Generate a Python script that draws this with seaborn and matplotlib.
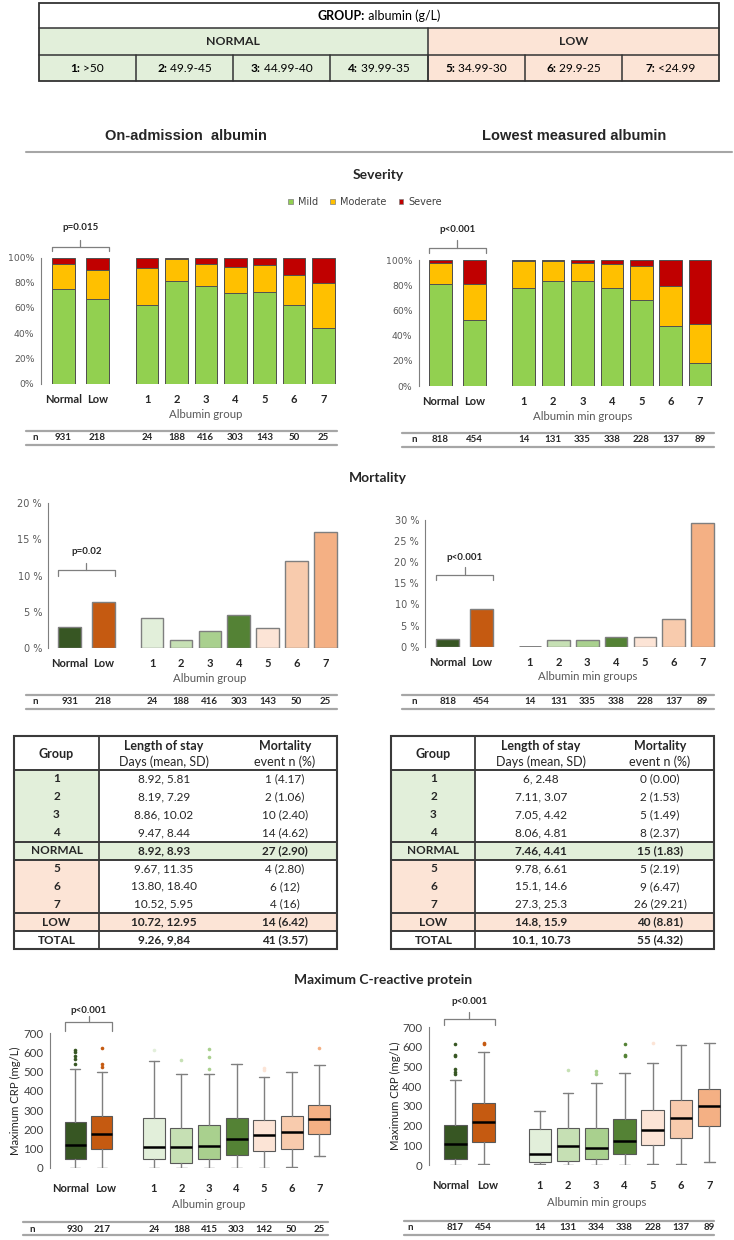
import matplotlib
matplotlib.use("Agg")
import matplotlib.pyplot as plt
import numpy as np
import pandas as pd
import seaborn as sns
from matplotlib.patches import Rectangle, Patch
from matplotlib.transforms import ScaledTranslation

# ---------------- data ----------------
pair_labels = ["Normal", "Low"]
group_labels = ["1", "2", "3", "4", "5", "6", "7"]
albumin_ranges = [">50", "49.9-45", "44.99-40", "39.99-35", "34.99-30", "29.9-25", "<24.99"]
severity_levels = ["Mild", "Moderate", "Severe"]

# severity (% of patients) : Normal, Low, groups 1..7
sev_adm_mild = [75, 67, 62.5, 81, 77, 71.5, 73, 62, 44]
sev_adm_moderate = [20, 23, 29.5, 18, 18, 21, 21, 24, 36]
sev_adm_severe = [5, 10, 8, 1, 5, 7.5, 6, 14, 20]
sev_min_mild = [81, 52, 78, 83.5, 83.5, 77.5, 68, 48, 18]
sev_min_moderate = [17, 29, 21.5, 15.5, 14.5, 19, 27, 31, 31.5]
sev_min_severe = [2, 19, 0.5, 1, 2, 3.5, 5, 21, 50.5]

n_adm = [931, 218, 24, 188, 416, 303, 143, 50, 25]
n_min = [818, 454, 14, 131, 335, 338, 228, 137, 89]
n_crp_adm = [930, 217, 24, 188, 415, 303, 142, 50, 25]
n_crp_min = [817, 454, 14, 131, 334, 338, 228, 137, 89]

# mortality (%)
mort_adm = [2.90, 6.42, 4.17, 1.06, 2.40, 4.62, 2.80, 12.0, 16.0]
mort_min = [1.83, 8.81, 0.00, 1.53, 1.49, 2.37, 2.19, 6.47, 29.21]

p_sev = ["p=0.015", "p<0.001"]
p_mort = ["p=0.02", "p<0.001"]
p_crp = ["p<0.001", "p<0.001"]

# tables
table_groups = ["1", "2", "3", "4", "NORMAL", "5", "6", "7", "LOW", "TOTAL"]
los_adm = ["8.92, 5.81", "8.19, 7.29", "8.86, 10.02", "9.47, 8.44", "8.92, 8.93",
           "9.67, 11.35", "13.80, 18.40", "10.52, 5.95", "10.72, 12.95", "9.26, 9,84"]
mort_txt_adm = ["1 (4.17)", "2 (1.06)", "10 (2.40)", "14 (4.62)", "27 (2.90)",
                "4 (2.80)", "6 (12)", "4 (16)", "14 (6.42)", "41 (3.57)"]
los_min = ["6, 2.48", "7.11, 3.07", "7.05, 4.42", "8.06, 4.81", "7.46, 4.41",
           "9.78, 6.61", "15.1, 14.6", "27.3, 25.3", "14.8, 15.9", "10.1, 10.73"]
mort_txt_min = ["0 (0.00)", "2 (1.53)", "5 (1.49)", "8 (2.37)", "15 (1.83)",
                "5 (2.19)", "9 (6.47)", "26 (29.21)", "40 (8.81)", "55 (4.32)"]

# maximum CRP box statistics (mg/L): Normal, Low, groups 1..7
crp_adm_whislo = [0, 0, 0, 0, 0, 0, 0, 5, 60]
crp_adm_q1 = [48, 100, 45, 25, 47, 65, 90, 98, 178]
crp_adm_med = [120, 178, 110, 107, 113, 150, 170, 185, 255]
crp_adm_q3 = [237, 270, 258, 210, 225, 258, 248, 268, 325]
crp_adm_whishi = [515, 500, 555, 485, 490, 540, 470, 500, 535]
crp_adm_fliers = [[612, 600, 580, 566, 540], [620, 540, 522], [610], [560],
                  [615, 575, 515], [], [520, 510], [], [620]]
crp_min_whislo = [0, 3, 5, 0, 0, 0, 3, 3, 15]
crp_min_q1 = [32, 115, 15, 20, 28, 55, 100, 138, 200]
crp_min_med = [105, 218, 55, 95, 88, 122, 178, 240, 300]
crp_min_q3 = [205, 312, 183, 186, 188, 232, 278, 332, 388]
crp_min_whishi = [432, 572, 275, 365, 418, 465, 515, 610, 618]
crp_min_fliers = [[612, 560, 555, 485, 472, 462], [620, 612], [], [480],
                  [475, 462], [612, 560, 555], [620], [], []]

# ---------------- style ----------------
sns.set_style("white")
FONT = ["Lato", "DejaVu Sans"]
ARIAL = ["Liberation Sans", "DejaVu Sans"]
TICKF = ["DejaVu Sans"]
plt.rcParams["font.family"] = FONT

MILD_C, MOD_C, SEV_C = "#92D050", "#FFC000", "#C00000"
pair_colors = ["#375623", "#C55A11"]
group_colors = ["#E2EFDA", "#C6E0B4", "#A9D08E", "#548235", "#FCE4D6", "#F8CBAD", "#F4B084"]
GREEN_L, PEACH_L = "#E2EFDA", "#FCE4D6"
GRAY = "#7F7F7F"
TXTG = "#595959"

W, H = 734, 1240
fig = plt.figure(figsize=(W / 100, H / 100), dpi=100)
ov = fig.add_axes([0, 0, 1, 1])
ov.set_xlim(0, W)
ov.set_ylim(H, 0)
ov.axis("off")
renderer = fig.canvas.get_renderer()


def add_ax(x0, x1, ytop, ybot):
    ax = fig.add_axes([x0 / W, 1 - ybot / H, (x1 - x0) / W, (ybot - ytop) / H])
    ax.patch.set_alpha(0)
    return ax


def mixed(x, y, parts, size, color="black"):
    objs = []
    for s, w in parts:
        objs.append(ov.text(0, y, s, fontsize=size, fontweight=w, family=FONT,
                            va="center", ha="left", color=color))
    widths = [t.get_window_extent(renderer=renderer).width for t in objs]
    x0 = x - sum(widths) / 2
    for t, wd in zip(objs, widths):
        t.set_x(x0)
        x0 += wd


def make_axes(L, c0, c1, g0, g6, y0, ytop):
    s = c1 - c0
    pad = (c0 - L) / s
    axp = add_ax(L, c1 + 0.6 * s, ytop, y0)
    sg = (g6 - g0) / 6
    axg = add_ax(g0 - 0.5 * sg, g6 + 0.5 * sg, ytop, y0)
    return axp, axg, (-pad, 1.6)


def style_axes(axp, axg, xl, ymax, yticks, fmt, tfam, tsize, tcolor, xpad):
    axp.set_xlim(*xl)
    axg.set_xlim(-0.5, 6.5)
    for ax in (axp, axg):
        ax.set_ylim(0, ymax)
        ax.set_xlabel("")
        ax.set_ylabel("")
        for sp in ["top", "right", "bottom"]:
            ax.spines[sp].set_visible(False)
    axg.spines["left"].set_visible(False)
    axg.set_yticks([])
    axp.spines["left"].set_color(GRAY)
    axp.spines["left"].set_linewidth(0.8)
    axp.set_yticks(yticks)
    axp.set_yticklabels([fmt(v) for v in yticks], family=tfam, fontsize=tsize, color=tcolor)
    axp.tick_params(axis="y", length=3, width=0.8, color=GRAY, pad=1.5)
    axp.set_xticks([0, 1])
    axp.set_xticklabels(pair_labels, fontweight="bold", fontsize=8, family=FONT)
    axg.set_xticks(range(7))
    axg.set_xticklabels(group_labels, fontweight="bold", fontsize=8, family=FONT)
    for ax in (axp, axg):
        ax.tick_params(axis="x", length=0, pad=xpad)


def shift_labels(ax, shifts):
    for lab, dx in zip(ax.get_xticklabels(), shifts):
        lab.set_transform(lab.get_transform() + ScaledTranslation(dx / 100, 0, fig.dpi_scale_trans))


def px(ax, xd):
    return ax.transData.transform((xd, 0))[0]


def bracket(ax, hw, y_end, y_h, y_top, y_text, text):
    x0, x1 = px(ax, 0 - hw), px(ax, 1 + hw)
    xm = (x0 + x1) / 2
    ov.plot([x0, x0, x1, x1], [y_end, y_h, y_h, y_end], color=GRAY, lw=0.9, solid_joinstyle="round")
    ov.plot([xm, xm], [y_h, y_top], color=GRAY, lw=0.9)
    ov.text(xm, y_text, text, fontsize=7, fontweight="bold", ha="center", va="center", family=FONT)


def xlabel(axg, y, text):
    ov.text(px(axg, 2.0), y, text, fontsize=8.2, ha="center", va="center", color=TXTG, family=FONT)


def nrow(axp, axg, values, y_text, y1, y2, xl, xr, xn):
    for yy in (y1, y2):
        ov.plot([xl, xr], [yy, yy], color="#A6A6A6", lw=1.6)
    ov.text(xn, y_text, "n", fontsize=7, fontweight="bold", ha="center", va="center", family=FONT)
    for i, v in enumerate(values[:2]):
        ov.text(px(axp, i), y_text, str(v), fontsize=7, fontweight="bold", ha="center", va="center", family=FONT)
    for i, v in enumerate(values[2:]):
        ov.text(px(axg, i), y_text, str(v), fontsize=7, fontweight="bold", ha="center", va="center", family=FONT)


# ---------------- top table ----------------
tx0, tx1 = 38.5, 719.3
cw = (tx1 - tx0) / 7
ty = [3, 28, 55, 81]
ov.add_patch(Rectangle((tx0, ty[1]), 4 * cw, ty[2] - ty[1], fc=GREEN_L, ec="none"))
ov.add_patch(Rectangle((tx0 + 4 * cw, ty[1]), 3 * cw, ty[2] - ty[1], fc=PEACH_L, ec="none"))
for i in range(7):
    ov.add_patch(Rectangle((tx0 + i * cw, ty[2]), cw, ty[3] - ty[2],
                           fc=GREEN_L if i < 4 else PEACH_L, ec="none"))
TL = "#333333"
ov.add_patch(Rectangle((tx0, ty[0]), tx1 - tx0, ty[3] - ty[0], fc="none", ec=TL, lw=1.3))
for yy in ty[1:3]:
    ov.plot([tx0, tx1], [yy, yy], color=TL, lw=1.1)
ov.plot([tx0 + 4 * cw] * 2, [ty[1], ty[3]], color=TL, lw=1.1)
for i in range(1, 7):
    ov.plot([tx0 + i * cw] * 2, [ty[2], ty[3]], color=TL, lw=1.1)
mixed((tx0 + tx1) / 2, (ty[0] + ty[1]) / 2, [("GROUP:", "bold"), (" albumin (g/L)", "normal")], 9)
ov.text(tx0 + 2 * cw, (ty[1] + ty[2]) / 2, "NORMAL", fontsize=8.8, fontweight="bold", ha="center", va="center")
ov.text(tx0 + 5.5 * cw, (ty[1] + ty[2]) / 2, "LOW", fontsize=8.8, fontweight="bold", ha="center", va="center")
for i, (g, r) in enumerate(zip(group_labels, albumin_ranges)):
    mixed(tx0 + (i + 0.5) * cw, (ty[2] + ty[3]) / 2, [(g + ":", "bold"), (" " + r, "normal")], 8.6)

# ---------------- headings ----------------
ov.text(186, 136, "On-admission  albumin", fontsize=10.5, fontweight="bold", family=ARIAL, ha="center", va="center")
ov.text(574, 136, "Lowest measured albumin", fontsize=10.5, fontweight="bold", family=ARIAL, ha="center", va="center")
ov.plot([26, 732], [152, 152], color="#A6A6A6", lw=1.5)
ov.text(378, 175, "Severity", fontsize=10, fontweight="bold", ha="center", va="center")
ov.text(378, 478, "Mortality", fontsize=10, fontweight="bold", ha="center", va="center")
ov.text(383, 980, "Maximum C-reactive protein", fontsize=10, fontweight="bold", ha="center", va="center")

handles = [Patch(facecolor=c, edgecolor="#7F7F7F", lw=0.5) for c in (MILD_C, MOD_C, SEV_C)]
fig.legend(handles, severity_levels, loc="center", bbox_to_anchor=(365 / W, 1 - 202 / H), ncol=3,
           frameon=False, handlelength=0.45, handleheight=0.45, handletextpad=0.5, columnspacing=1.3,
           prop={"family": TICKF, "size": 7})
for t in fig.legends[0].get_texts():
    t.set_color("#404040")


# ---------------- severity ----------------
def severity_panel(L, c0, c1, g0, g6, y0, y100, mild, mod, sev):
    axp, axg, xl = make_axes(L, c0, c1, g0, g6, y0, y100)
    df = pd.DataFrame({"cat": pair_labels + group_labels, "mild": mild, "mod": mod, "sev": sev})
    df["top_mod"] = df["mild"] + df["mod"]
    df["top_sev"] = df["top_mod"] + df["sev"]
    for ax, sub, w in [(axp, df.iloc[:2], 0.68), (axg, df.iloc[2:], 0.77)]:
        order = list(sub["cat"])
        for col, colr in [("top_sev", SEV_C), ("top_mod", MOD_C), ("mild", MILD_C)]:
            sns.barplot(data=sub, x="cat", y=col, order=order, color=colr, saturation=1, width=w,
                        edgecolor="#505050", linewidth=0.7, errorbar=None, ax=ax)
    style_axes(axp, axg, xl, 100, [0, 20, 40, 60, 80, 100], lambda v: f"{v}%", TICKF, 6.7, TXTG, 7.5)
    return axp, axg


sl_p, sl_g = severity_panel(40.7, 63.3, 97.3, 147.2, 323.3, 383.5, 257.5,
                            sev_adm_mild, sev_adm_moderate, sev_adm_severe)
sr_p, sr_g = severity_panel(418.7, 440.5, 474.2, 523.8, 700.0, 386.0, 260.0,
                            sev_min_mild, sev_min_moderate, sev_min_severe)
bracket(sl_p, 0.34, 250.7, 246.5, 239.5, 227.5, p_sev[0])
bracket(sr_p, 0.34, 253.0, 248.0, 240.0, 230.0, p_sev[1])
xlabel(sl_g, 414, "Albumin group")
xlabel(sr_g, 416, "Albumin min groups")
nrow(sl_p, sl_g, n_adm, 438, 431, 445, 26, 337, 35)
nrow(sr_p, sr_g, n_min, 440, 433, 447, 402, 714, 414)


# ---------------- mortality ----------------
def mortality_panel(L, c0, c1, g0, g6, y0, ytop, ymax, vals):
    axp, axg, xl = make_axes(L, c0, c1, g0, g6, y0, ytop)
    df = pd.DataFrame({"cat": pair_labels + group_labels, "mort": vals})
    sns.barplot(data=df.iloc[:2], x="cat", y="mort", hue="cat", order=pair_labels, hue_order=pair_labels,
                palette=pair_colors, saturation=1, width=0.68, edgecolor=GRAY, linewidth=1,
                errorbar=None, legend=False, ax=axp)
    sns.barplot(data=df.iloc[2:], x="cat", y="mort", hue="cat", order=group_labels, hue_order=group_labels,
                palette=group_colors, saturation=1, width=0.78, edgecolor=GRAY, linewidth=1,
                errorbar=None, legend=False, ax=axg)
    for patch in axg.patches:
        if patch.get_height() == 0:
            patch.set_edgecolor("#595959")
            patch.set_linewidth(1.8)
    style_axes(axp, axg, xl, ymax, list(range(0, ymax + 1, 5)), lambda v: f"{v} %", TICKF, 7, TXTG, 7.5)
    return axp, axg


ml_p, ml_g = mortality_panel(48.3, 69.7, 103.2, 152.2, 325.3, 648.0, 503.3, 20, mort_adm)
mr_p, mr_g = mortality_panel(425.3, 447.8, 481.7, 529.8, 702.3, 646.7, 520.0, 30, mort_min)
bracket(ml_p, 0.34, 576, 570, 563, 551.5, p_mort[0])
bracket(mr_p, 0.34, 580, 575, 567, 557, p_mort[1])
xlabel(ml_g, 678, "Albumin group")
xlabel(mr_g, 677, "Albumin min groups")
nrow(ml_p, ml_g, n_adm, 702, 695, 709, 26, 337, 35)
nrow(mr_p, mr_g, n_min, 702, 695, 709, 402, 714, 414)


# ---------------- tables ----------------
def draw_table(x0, x1, xdiv, xc, los, mtxt):
    top, hdr = 736, 770
    rh = 17.9
    bottom = hdr + rh * 10
    for k in range(10):
        ya = hdr + rh * k
        if k in (4, 8):
            ov.add_patch(Rectangle((x0, ya), x1 - x0, rh, fc=GREEN_L if k == 4 else PEACH_L, ec="none"))
        elif k < 4:
            ov.add_patch(Rectangle((x0, ya), xdiv - x0, rh, fc=GREEN_L, ec="none"))
        elif k < 8:
            ov.add_patch(Rectangle((x0, ya), xdiv - x0, rh, fc=PEACH_L, ec="none"))
    LC = "#3A3A3A"
    ov.add_patch(Rectangle((x0, top), x1 - x0, bottom - top, fc="none", ec=LC, lw=1.5))
    for k in (0, 4, 5, 8, 9):
        yy = hdr + rh * k
        ov.plot([x0, x1], [yy, yy], color=LC, lw=1.4)
    ov.plot([xdiv, xdiv], [top, bottom], color=LC, lw=1.3)
    ov.text(xc[0], 754, "Group", fontsize=9, fontweight="bold", ha="center", va="center")
    ov.text(xc[1], 745.5, "Length of stay", fontsize=9, fontweight="bold", ha="center", va="center")
    ov.text(xc[1], 762, "Days (mean, SD)", fontsize=9, ha="center", va="center")
    ov.text(xc[2], 745.5, "Mortality", fontsize=9, fontweight="bold", ha="center", va="center")
    ov.text(xc[2], 762, "event n (%)", fontsize=9, ha="center", va="center")
    for k, (g, l, m) in enumerate(zip(table_groups, los, mtxt)):
        yc = hdr + rh * (k + 0.5)
        wt = "bold" if k in (4, 8, 9) else "normal"
        ov.text(xc[0], yc, g, fontsize=8.5, fontweight="bold", ha="center", va="center")
        ov.text(xc[1], yc, l, fontsize=8.5, fontweight=wt, ha="center", va="center", color="#262626")
        ov.text(xc[2], yc, m, fontsize=8.5, fontweight=wt, ha="center", va="center", color="#262626")


draw_table(14, 337.3, 98.7, (56.5, 164, 285), los_adm, mort_txt_adm)
draw_table(391, 713.7, 475.3, (433.5, 541, 660), los_min, mort_txt_min)


# ---------------- CRP boxplots ----------------
def crp_panel(L, c0, c1, g0, g6, y0, ytop, lo, q1, med, q3, hi, fl):
    axp, axg, xl = make_axes(L, c0, c1, g0, g6, y0, ytop)
    stats = [dict(whislo=lo[i], q1=q1[i], med=med[i], q3=q3[i], whishi=hi[i], fliers=fl[i], label=lab)
             for i, lab in enumerate(pair_labels + group_labels)]
    colors = pair_colors + group_colors
    for ax, sl, wd in [(axp, slice(0, 2), 0.8), (axg, slice(2, 9), 0.8)]:
        st = stats[sl]
        cols = colors[sl]
        bp = ax.bxp(st, positions=list(range(len(st))), widths=wd, capwidths=0.38, patch_artist=True,
                    showfliers=True,
                    boxprops=dict(edgecolor="#595959", linewidth=0.8),
                    medianprops=dict(color="black", linewidth=1.8),
                    whiskerprops=dict(color=GRAY, linewidth=1.0),
                    capprops=dict(color=GRAY, linewidth=1.0),
                    flierprops=dict(marker="o", markersize=2.6, markeredgecolor="none"))
        for patch, c in zip(bp["boxes"], cols):
            patch.set_facecolor(c)
        for f, c in zip(bp["fliers"], cols):
            f.set_markerfacecolor(c)
    style_axes(axp, axg, xl, 700, list(range(0, 701, 100)), lambda v: f"{v}", FONT, 8.3, "#404040", 10.5)
    axp.set_ylim(0, 700)
    axg.set_ylim(0, 700)
    shift_labels(axp, [-5, 4])
    return axp, axg


cl_p, cl_g = crp_panel(50, 75.3, 101.7, 153.8, 319.3, 1168, 1033,
                       crp_adm_whislo, crp_adm_q1, crp_adm_med, crp_adm_q3, crp_adm_whishi, crp_adm_fliers)
cr_p, cr_g = crp_panel(428.7, 455.3, 483.7, 539.8, 709.2, 1165, 1027,
                       crp_min_whislo, crp_min_q1, crp_min_med, crp_min_q3, crp_min_whishi, crp_min_fliers)
for axp, xx, yy in [(cl_p, 15, 1101), (cr_p, 395, 1096)]:
    ov.text(xx, yy, "Maximum CRP (mg/L)", rotation=90, fontsize=8.2, ha="center", va="center", color="#262626")
bracket(cl_p, 0.4, 1031, 1022, 1016, 1010.5, p_crp[0])
bracket(cr_p, 0.4, 1025, 1019, 1012, 1001.5, p_crp[1])
xlabel(cl_g, 1205, "Albumin group")
xlabel(cr_g, 1203, "Albumin min groups")
nrow(cl_p, cl_g, n_crp_adm, 1229, 1222, 1235, 23, 328, 32)
nrow(cr_p, cr_g, n_crp_min, 1228, 1221, 1235, 404, 714, 410)

fig.savefig("out.png", dpi=100)
